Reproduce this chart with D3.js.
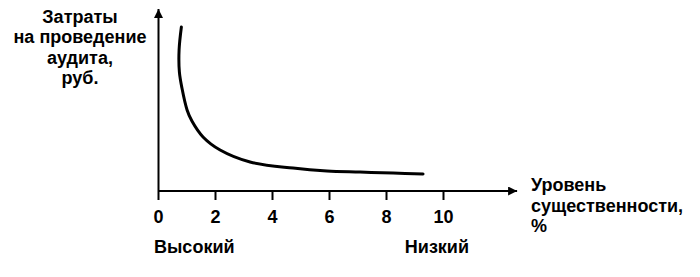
<!DOCTYPE html>
<html>
<head>
<meta charset="utf-8">
<script src="https://cdn.jsdelivr.net/npm/d3@7"></script>
<style>
    body { margin: 0; background: #fff; }
    svg text { font-family: "Liberation Sans", Arial, sans-serif; font-weight: bold; fill: #000; }
</style>
</head>
<body>
<div id="chart"></div>
<script>
// levels of materiality, % (x) and audit cost, arbitrary units (y)
const levels = [0.82, 0.74, 0.75, 0.84, 1.02, 1.19, 1.58, 2.18, 3.23, 4.74, 5.93, 7.09, 8.25, 9.3]
const costs = [91.6, 78.8, 66.5, 57.5, 45.3, 39.1, 30.2, 22.9, 16.2, 12.8, 11.2, 10.6, 10, 9.5]

const xTicks = [0, 2, 4, 6, 8, 10]
const yTitle = ['Затраты', 'на проведение', 'аудита,', 'руб.']
const xTitle = ['Уровень', 'существенности,', '%']
const levelNames = ['Высокий', 'Низкий']

const width = 700
const height = 277

const svg = d3.select('#chart')
    .append('svg')
    .attr('width', width)
    .attr('height', height)

const x = d3.scaleLinear().domain([0, 10]).range([158, 443])
const y = d3.scaleLinear().domain([0, 100]).range([191, 12])

// axes with arrows
svg.append('defs').append('marker')
    .attr('id', 'arrow')
    .attr('viewBox', '0 0 10 10')
    .attr('refX', 10)
    .attr('refY', 5)
    .attr('markerWidth', 14)
    .attr('markerHeight', 9)
    .attr('markerUnits', 'userSpaceOnUse')
    .attr('orient', 'auto')
    .append('path')
    .attr('d', 'M0,0 L10,5 L0,10 Z')
    .attr('fill', '#000')

svg.append('line')
    .attr('x1', x(0)).attr('y1', y(0))
    .attr('x2', x(12.6)).attr('y2', y(0))
    .attr('stroke', '#000').attr('stroke-width', 2)
    .attr('marker-end', 'url(#arrow)')

svg.append('line')
    .attr('x1', x(0) + 0.5).attr('y1', y(0))
    .attr('x2', x(0) + 0.5).attr('y2', 9)
    .attr('stroke', '#000').attr('stroke-width', 2)
    .attr('marker-end', 'url(#arrow)')

// ticks below the axis
const xAxis = svg.append('g')
    .attr('transform', 'translate(0,' + y(0) + ')')
    .call(d3.axisBottom(x).tickValues(xTicks).tickSize(9).tickPadding(10))
xAxis.select('.domain').remove()
xAxis.selectAll('.tick line').attr('stroke', '#000').attr('stroke-width', 2)
xAxis.selectAll('.tick text')
    .attr('font-size', 18)
    .style('font-family', '"Liberation Sans", Arial, sans-serif')
    .style('font-weight', 'bold')

svg.append('text')
    .attr('x', x(0) - 4)
    .attr('y', 253)
    .attr('font-size', 18)
    .text(levelNames[0])

svg.append('text')
    .attr('x', x(10) + 26)
    .attr('y', 253)
    .attr('text-anchor', 'end')
    .attr('font-size', 18)
    .text(levelNames[1])

// axis titles
svg.append('g')
    .selectAll('text')
    .data(yTitle)
    .join('text')
    .attr('x', 80)
    .attr('y', (d, i) => 23 + i * 20.3)
    .attr('text-anchor', 'middle')
    .attr('font-size', 18)
    .text(d => d)

svg.append('g')
    .selectAll('text')
    .data(xTitle)
    .join('text')
    .attr('x', 531)
    .attr('y', (d, i) => 191 + i * 20.5)
    .attr('font-size', 18)
    .text(d => d)

// cost curve
const points = levels.map((l, i) => [l, costs[i]])
svg.append('path')
    .datum(points)
    .attr('fill', 'none')
    .attr('stroke', '#000')
    .attr('stroke-width', 3)
    .attr('stroke-linecap', 'round')
    .attr('d', d3.line()
        .x(d => x(d[0]))
        .y(d => y(d[1]))
        .curve(d3.curveCatmullRom))
</script>
</body>
</html>
